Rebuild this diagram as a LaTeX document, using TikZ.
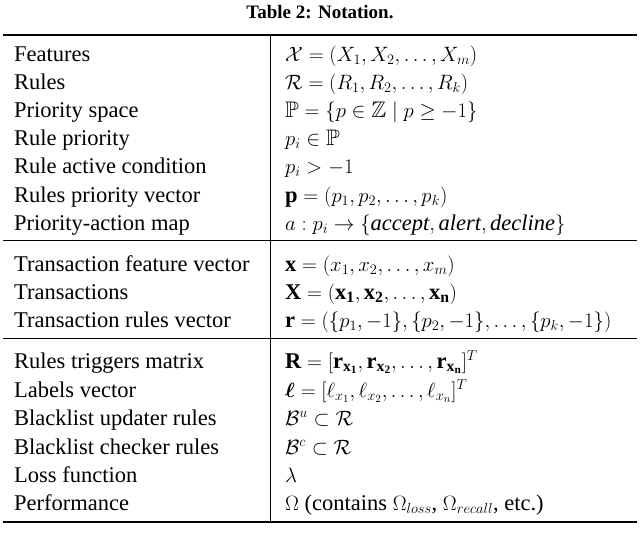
\documentclass[tikz,border=0pt]{standalone}
\usepackage{amsmath,amssymb}
\usepackage{fontspec}
\setmainfont{Liberation Serif}
\begin{document}
\begin{tikzpicture}[x=1pt,y=-1pt,
  lab/.style={anchor=base west,inner sep=0pt,font=\fontsize{22.5}{26}\selectfont},
  thick rule/.style={line width=1.2pt},
  thin rule/.style={line width=0.6pt}]
\useasboundingbox (0,0) rectangle (640,549);
\node[anchor=base,inner sep=0pt,font=\bfseries\fontsize{19}{22}\selectfont] (title) at (320,18) {Table 2: Notation.};
\draw[thick rule] (3,35) -- (637,35);
\draw[thin rule] (3,240) -- (637,240);
\draw[thin rule] (3,338) -- (637,338);
\draw[thick rule] (3,522) -- (637,522);
\draw[thin rule] (270,35) -- (270,522);
\foreach \y/\l/\r in {
 61/Features/{$\mathcal{X}=(X_1,X_2,\dots,X_m)$},
 89/Rules/{$\mathcal{R}=(R_1,R_2,\dots,R_k)$},
 117/Priority space/{$\mathbb{P}=\{p\in\mathbb{Z}\mid p\geq -1\}$},
 145/Rule priority/{$p_i\in\mathbb{P}$},
 173/Rule active condition/{$p_i>-1$},
 202/Rules priority vector/{$\mathbf{p}=(p_1,p_2,\dots,p_k)$},
 230/Priority-action map/{$a:p_i\rightarrow\{\mathit{accept},\mathit{alert},\mathit{decline}\}$},
 271/Transaction feature vector/{$\mathbf{x}=(x_1,x_2,\dots,x_m)$},
 299/Transactions/{$\mathbf{X}=(\mathbf{x_1},\mathbf{x_2},\dots,\mathbf{x_n})$},
 327/Transaction rules vector/{$\mathbf{r}=(\{p_1,-1\},\{p_2,-1\},\dots,\{p_k,-1\})$},
 368/Rules triggers matrix/{$\mathbf{R}=[\mathbf{r}_{\mathbf{x_1}},\mathbf{r}_{\mathbf{x_2}},\dots,\mathbf{r}_{\mathbf{x_n}}]^T$},
 397/Labels vector/{$\boldsymbol{\ell}=[\ell_{x_1},\ell_{x_2},\dots,\ell_{x_n}]^T$},
 425/Blacklist updater rules/{$\mathcal{B}^u\subset\mathcal{R}$},
 454/Blacklist checker rules/{$\mathcal{B}^c\subset\mathcal{R}$},
 482/Loss function/{$\lambda$},
 510/Performance/{$\Omega$ (contains $\Omega_{loss}$, $\Omega_{recall}$, etc.)}}
{
 \node[lab] at (14,\y) {\l};
 \node[lab] at (285,\y) {\r};
}
\end{tikzpicture}
\end{document}
